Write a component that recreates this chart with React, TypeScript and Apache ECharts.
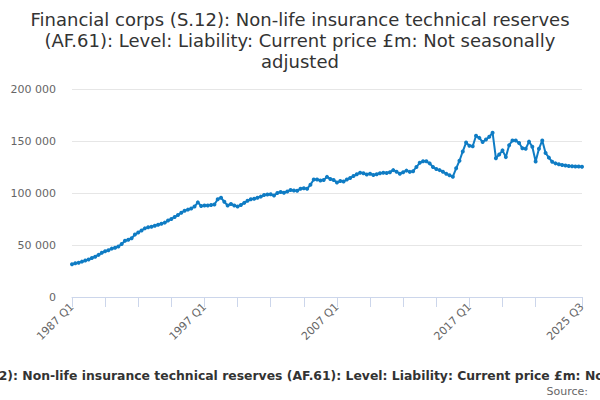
import { useEffect, useRef } from 'react'
import * as echarts from 'echarts'

const TITLE =
  'Financial corps (S.12): Non-life insurance technical reserves (AF.61): Level: Liability: Current price £m: Not seasonally adjusted'

const startYear = 1987
const endYear = 2025
const endQuarter = 3

// quarter labels 1987 Q1 .. 2025 Q3
const quarters: string[] = []
for (let y = startYear; y <= endYear; y++) {
  for (let q = 1; q <= 4; q++) {
    if (y === endYear && q > endQuarter) break
    quarters.push(`${y} Q${q}`)
  }
}

// £m
const reserves = [
  31500, 32500, 33000, 34000, 35000, 36000, 37500, 38800, 40500, 42500,
  44000, 45000, 46500, 47400, 48500, 51000, 54000, 55000, 56500, 60000,
  62000, 64000, 66000, 67000, 67600, 68500, 69500, 70500, 71500, 73500,
  75000, 77000, 78800, 81000, 83000, 84000, 85000, 87000, 91000, 87500,
  88000, 88000, 88500, 89000, 94000, 95500, 91500, 88000, 89500, 88000,
  87000, 88500, 90500, 92500, 94000, 94500, 95500, 96500, 98000, 98500,
  98700, 97500, 100000, 101000, 100300, 101500, 102900, 102500, 102200, 104000,
  104500, 104000, 108000, 113000, 113000, 112000, 112500, 115500, 113500, 112500,
  110000, 111500, 111000, 113000, 114500, 116300, 118000, 119500, 119000, 117800,
  118500, 117300, 118000, 119000, 119500, 119200, 120000, 122000, 120500, 118500,
  120000, 121500, 120300, 121000, 125000, 129000, 130500, 130500, 128500, 125000,
  123000, 122000, 120500, 118500, 117000, 115700, 123700, 131000, 140000, 148500,
  145500, 145000, 155000, 153000, 149000, 151500, 154000, 158000, 133500, 137000,
  141000, 134500, 146000, 150500, 150500, 148000, 143000, 142500, 149400, 144500,
  130200, 142500, 150500, 138500, 134000, 130000, 128500, 127600, 127000, 126500,
  126000, 125800, 125500, 125400, 125300,
]

const yTicks = [0, 50000, 100000, 150000, 200000]

const labelIdx = [0, 40, 80, 120, quarters.length - 1]

const fmt = (v: number) => String(v).replace(/\B(?=(\d{3})+(?!\d))/g, ' ')

export default function App() {
  const ref = useRef<HTMLDivElement>(null)

  useEffect(() => {
    document.body.style.margin = '0'
    if (!ref.current) return
    const chart = echarts.init(ref.current, undefined, { renderer: 'svg' })
    const last = quarters.length - 1
    chart.setOption({
      animation: false,
      textStyle: { fontFamily: 'DejaVu Sans' },
      grid: { left: 72, right: 18, top: 89, height: 208 },
      xAxis: {
        type: 'category',
        data: quarters,
        boundaryGap: false,
        axisLine: { lineStyle: { color: '#ccd6eb' } },
        axisTick: {
          length: 10,
          lineStyle: { color: '#ccd6eb' },
          interval: (i: number) => (i % 10 === 0 && i <= 140) || i === last,
        },
        axisLabel: {
          rotate: 45,
          color: '#666666',
          fontSize: 11,
          margin: 8,
          interval: (i: number) => labelIdx.includes(i),
        },
      },
      yAxis: {
        type: 'value',
        min: yTicks[0],
        max: yTicks[yTicks.length - 1],
        interval: 50000,
        axisLine: { show: false },
        axisTick: { show: false },
        axisLabel: { color: '#666666', fontSize: 11, margin: 16, formatter: (v: number) => fmt(v) },
        splitLine: { lineStyle: { color: '#e6e6e6' } },
      },
      series: [
        {
          type: 'line',
          data: reserves,
          symbol: 'circle',
          symbolSize: 4,
          showSymbol: true,
          showAllSymbol: true,
          lineStyle: { color: '#0f7cc4', width: 2 },
          itemStyle: { color: '#0f7cc4' },
        },
      ],
      graphic: [
        {
          type: 'text',
          x: 300,
          y: 9,
          style: {
            text: TITLE.replace(' reserves ', ' reserves\n').replace(' seasonally ', ' seasonally\n'),
            align: 'center',
            verticalAlign: 'top',
            fontSize: 18,
            lineHeight: 21,
            fill: '#333333',
            fontFamily: 'DejaVu Sans',
          },
        },
        {
          // caption is wider than the page, so both ends get clipped like the original
          type: 'text',
          x: 307,
          y: 375,
          style: {
            text: TITLE,
            align: 'center',
            verticalAlign: 'middle',
            fontSize: 12.4,
            fontWeight: 'bold',
            fill: '#333333',
            fontFamily: 'DejaVu Sans',
          },
        },
        {
          type: 'text',
          x: 588,
          y: 391,
          style: {
            text: 'Source:',
            align: 'right',
            verticalAlign: 'middle',
            fontSize: 11,
            fill: '#666666',
            fontFamily: 'DejaVu Sans',
          },
        },
      ],
    })
    return () => chart.dispose()
  }, [])

  return <div ref={ref} style={{ width: 600, height: 400 }} />
}
